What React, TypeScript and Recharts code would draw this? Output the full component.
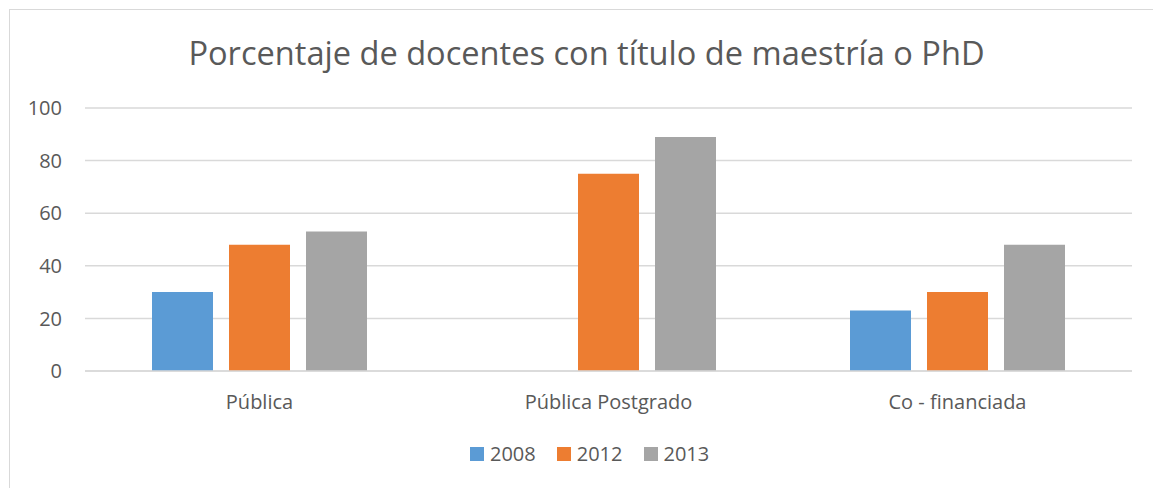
import React from 'react';
import { BarChart, Bar, XAxis, YAxis, CartesianGrid, Legend } from 'recharts';

const categories = ['Pública', 'Pública Postgrado', 'Co - financiada'];
const series2008 = [30, null, 23];
const series2012 = [48, 75, 30];
const series2013 = [53, 89, 48];
const yTicks = [0, 20, 40, 60, 80, 100];
const seriesNames = ['2008', '2012', '2013'];
const colors = ['#5B9BD5', '#ED7D31', '#A5A5A5'];

const data = categories.map((c, i) => ({
  name: c,
  '2008': series2008[i],
  '2012': series2012[i],
  '2013': series2013[i],
}));

const FONT = '"Open Sans", sans-serif';
const TXT = '#595959';

const renderLegend = (props: any) => {
  const payload = props.payload || [];
  return (
    <div style={{ display: 'flex', alignItems: 'center', height: 20, fontFamily: FONT, fontSize: 20, lineHeight: '20px', color: TXT }}>
      {payload.map((p: any) => (
        <div key={p.value} style={{ display: 'flex', alignItems: 'center', marginRight: 21 }}>
          <div style={{ width: 14, height: 14, background: p.color, marginRight: 6 }} />
          <span>{p.value}</span>
        </div>
      ))}
    </div>
  );
};

export default function App() {
  return (
    <div style={{ position: 'absolute', left: 0, top: 0, width: 1153, height: 488, overflow: 'hidden', background: '#fff' }}>
      <div style={{ position: 'absolute', left: 9, top: 9, width: 1200, height: 600, border: '1px solid #d9d9d9', boxSizing: 'border-box' }} />
      <div style={{ position: 'absolute', left: 0, top: 37, width: 1173, textAlign: 'center', fontFamily: FONT, fontSize: 32.6, lineHeight: '32px', color: TXT, whiteSpace: 'nowrap' }}>
        Porcentaje de docentes con título de maestría o PhD
      </div>
      <div style={{ position: 'absolute', left: 0, top: 0 }}>
        <BarChart
          width={1153}
          height={488}
          data={data}
          margin={{ top: 108, right: 21, bottom: 87, left: 0 }}
          barCategoryGap={67}
          barGap={16}
        >
          <CartesianGrid vertical={false} stroke="#d9d9d9" strokeWidth={1.5} />
          <XAxis
            dataKey="name"
            height={30}
            axisLine={{ stroke: '#d9d9d9', strokeWidth: 1.5 }}
            tickLine={false}
            tickSize={0}
            tickMargin={24}
            tick={{ fill: TXT, fontSize: 20, fontFamily: FONT }}
          />
          <YAxis
            width={85}
            domain={[0, 100]}
            ticks={yTicks}
            axisLine={false}
            tickLine={false}
            tickSize={0}
            tickMargin={23}
            tick={{ fill: TXT, fontSize: 20, fontFamily: FONT }}
          />
          <Legend
            verticalAlign="middle"
            align="center"
            layout="horizontal"
            content={renderLegend}
            wrapperStyle={{ top: 444, left: 470, width: 400, height: 20 }}
          />
          {seriesNames.map((s, i) => (
            <Bar key={s} dataKey={s} name={s} fill={colors[i]} isAnimationActive={false} />
          ))}
        </BarChart>
      </div>
    </div>
  );
}
